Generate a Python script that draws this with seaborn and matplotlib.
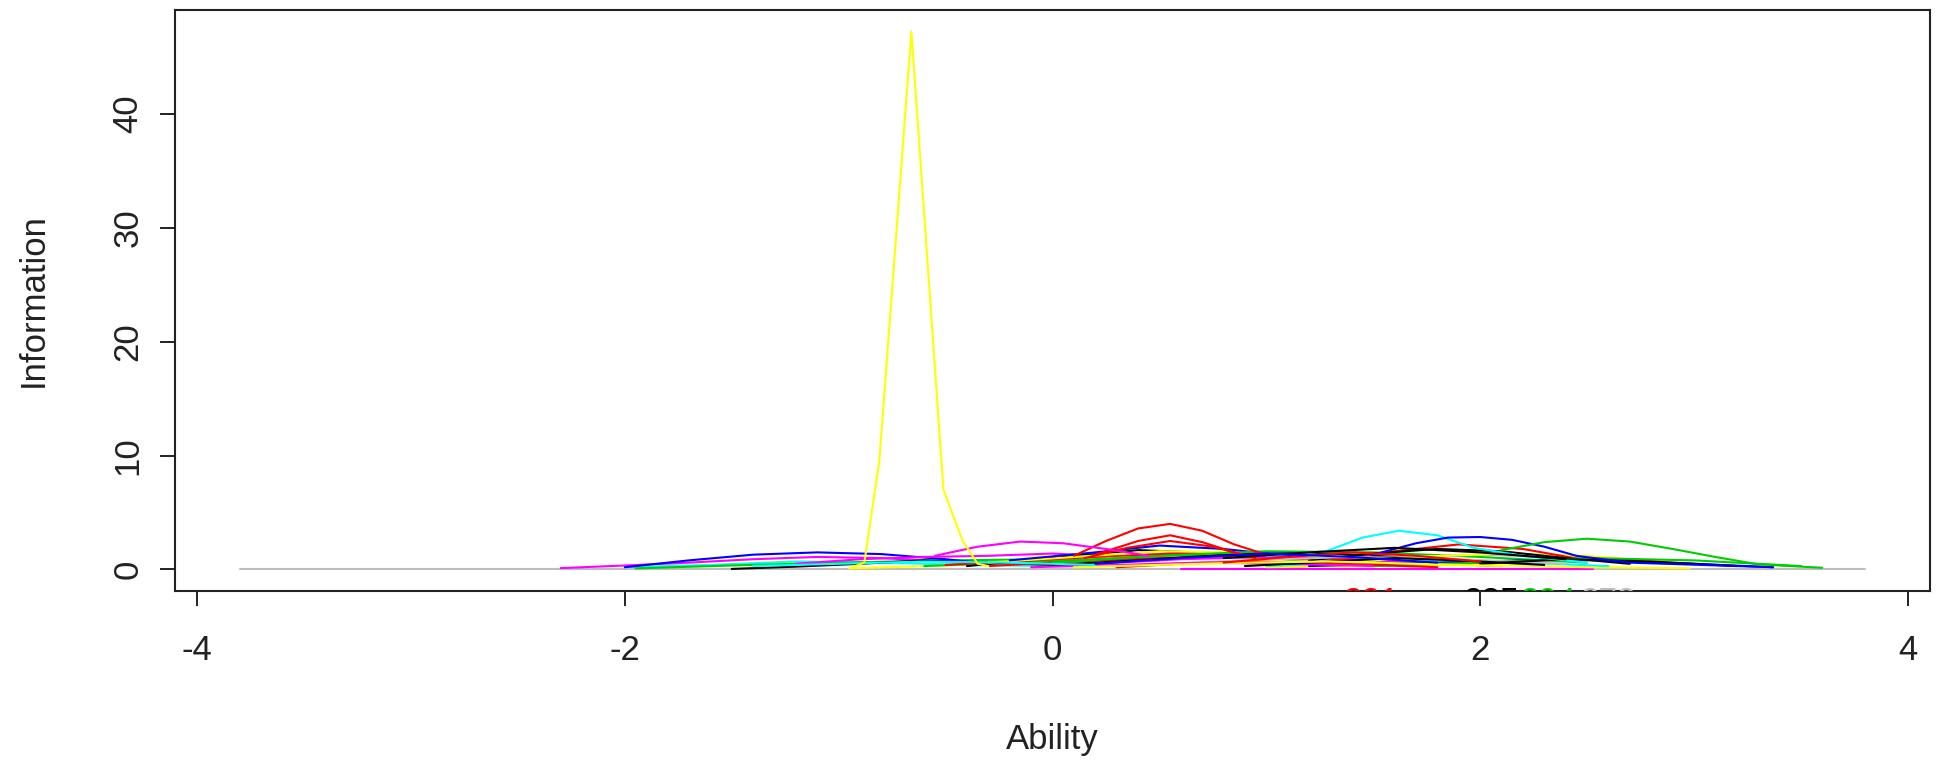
import pandas as pd
import matplotlib.pyplot as plt
import seaborn as sns

# R default palette
R_COLS = {'black': '#000000', 'red': '#FF0000', 'green': '#00CD00', 'blue': '#0000FF',
          'cyan': '#00FFFF', 'magenta': '#FF00FF', 'yellow': '#FFFF00', 'gray': '#BEBEBE'}

# item information curves: colour, theta points, information points
item_colour = [
    'gray', 'magenta', 'cyan', 'green', 'black', 'blue', 'magenta', 'yellow',
    'green', 'black', 'red', 'yellow', 'blue', 'magenta', 'red', 'black',
    'green', 'gray', 'yellow', 'cyan', 'magenta', 'yellow', 'red', 'black',
    'blue', 'green', 'gray', 'black', 'red', 'magenta', 'black', 'yellow',
    'cyan', 'red', 'red', 'red',
    'magenta', 'blue', 'cyan', 'black', 'red', 'blue', 'green', 'yellow',
]
item_theta = [
    [-3.8, 3.8],
    [-2.3, -2.0, -1.7, -1.4, -1.1, -0.8, -0.5],
    [-2.0, -1.6, -1.2, -0.8, -0.4, 0.0],
    [-1.95, -1.5, -1.0, -0.5, 0.0, 0.5],
    [-1.5, -1.2, -0.9, -0.6, -0.3, 0.0, 0.3],
    [-2.0, -1.7, -1.4, -1.1, -0.8, -0.5, -0.3],
    [-1.2, -0.9, -0.6, -0.3, 0.0, 0.3],
    [-0.95, -0.5, 0.0, 0.5, 1.0, 1.5],
    [-0.6, -0.2, 0.2, 0.6, 1.0, 1.4],
    [-0.4, 0.0, 0.4, 0.8, 1.2, 1.6],
    [-0.5, -0.1, 0.3, 0.7, 1.1, 1.5],
    [-0.3, 0.1, 0.5, 0.9, 1.3, 1.7],
    [-0.2, 0.2, 0.5, 0.8, 1.1, 1.4],
    [0.6, 1.0, 1.5, 2.0, 2.53],
    [-0.3, 0.1, 0.5, 0.9, 1.3, 1.7, 2.1],
    [0.0, 0.4, 0.8, 1.2, 1.6, 2.0],
    [0.0, 0.5, 1.0, 1.5, 2.0, 2.5],
    [1.0, 1.5, 2.0, 2.5, 3.0],
    [1.0, 1.5, 2.0, 2.5, 2.98],
    [1.0, 1.4, 1.8, 2.2, 2.6],
    [0.2, 0.6, 1.0, 1.4, 1.8],
    [1.3, 1.7, 2.1, 2.5, 2.9],
    [1.3, 1.6, 1.9, 2.2, 2.5],
    [1.2, 1.5, 1.8, 2.1, 2.4, 2.7],
    [1.2, 1.8, 2.4, 3.0, 3.37],
    [1.5, 2.0, 2.5, 3.0, 3.5],
    [0.4, 0.9, 1.4, 1.9, 2.4],
    [2.0, 2.4, 2.8, 3.2],
    [0.3, 0.6, 0.9, 1.2, 1.5, 1.8],
    [-0.1, 0.3, 0.7, 1.1, 1.5],
    [0.9, 1.3, 1.6, 1.9, 2.3],
    [0.1, 0.5, 0.9, 1.3, 1.7, 2.1],
    [1.0, 1.28, 1.45, 1.62, 1.8, 1.97, 2.2, 2.5],
    [0.15, 0.35, 0.55, 0.75, 0.95],
    [0.2, 0.4, 0.55, 0.7, 0.9],
    [0.10, 0.25, 0.40, 0.55, 0.70, 0.85, 1.00],
    [-0.55, -0.35, -0.15, 0.05, 0.25, 0.45],
    [1.5, 1.7, 1.85, 2.0, 2.15, 2.3, 2.45, 2.7, 3.37],
    [-1.4, -1.0, -0.6, -0.2, 0.2],
    [0.8, 1.2, 1.6, 2.0, 2.4],
    [0.8, 1.1, 1.4, 1.7, 2.0],
    [0.2, 0.6, 1.0, 1.4, 1.8],
    [2.1, 2.3, 2.5, 2.7, 2.9, 3.1, 3.3, 3.6],
    [-0.95, -0.88, -0.81, -0.66, -0.51, -0.42, -0.35, -0.30],
]
item_info = [
    [0.0, 0.0],
    [0.12, 0.35, 0.6, 0.9, 1.1, 1.0, 0.7],
    [0.2, 0.4, 0.7, 0.6, 0.4, 0.3],
    [0.1, 0.35, 0.6, 0.8, 0.9, 0.8],
    [0.05, 0.25, 0.5, 0.8, 0.6, 0.4, 0.3],
    [0.2, 0.8, 1.3, 1.5, 1.35, 0.9, 0.5],
    [0.5, 0.9, 1.1, 1.2, 1.4, 1.1],
    [0.1, 0.35, 0.8, 1.2, 1.0, 0.6],
    [0.3, 0.6, 0.9, 1.3, 1.0, 0.5],
    [0.3, 1.0, 1.7, 1.4, 0.9, 0.5],
    [0.4, 0.8, 1.2, 1.5, 1.0, 0.5],
    [0.6, 1.1, 1.6, 1.5, 1.0, 0.6],
    [0.8, 1.5, 2.1, 1.8, 1.2, 0.6],
    [0.08, 0.08, 0.08, 0.08, 0.08],
    [0.3, 0.7, 1.0, 1.2, 0.9, 0.6, 0.3],
    [0.4, 0.8, 1.3, 1.5, 1.1, 0.6],
    [0.6, 1.2, 1.6, 1.5, 1.1, 0.6],
    [0.6, 1.0, 1.3, 1.0, 0.5],
    [0.2, 0.3, 0.4, 0.2, 0.1],
    [0.3, 0.6, 0.8, 0.6, 0.3],
    [0.5, 0.9, 1.1, 0.9, 0.5],
    [0.5, 1.1, 1.4, 1.2, 0.6],
    [0.8, 1.6, 2.2, 1.8, 0.8],
    [0.8, 1.4, 1.8, 1.6, 1.0, 0.5],
    [0.3, 0.6, 0.9, 0.5, 0.2],
    [0.3, 0.6, 1.0, 0.8, 0.3],
    [0.4, 0.8, 1.1, 0.9, 0.5],
    [0.5, 0.9, 0.7, 0.3],
    [0.2, 0.5, 0.7, 0.6, 0.4, 0.2],
    [0.2, 0.4, 0.6, 0.5, 0.3],
    [0.3, 0.7, 1.0, 0.8, 0.4],
    [0.2, 0.4, 0.6, 0.7, 0.5, 0.3],
    [1.2, 1.6, 2.8, 3.4, 3.0, 1.9, 1.2, 0.6],
    [1.0, 1.9, 2.5, 2.0, 1.0],
    [1.3, 2.5, 3.0, 2.4, 1.2],
    [1.2, 2.5, 3.6, 4.0, 3.4, 2.2, 1.3],
    [1.2, 2.0, 2.45, 2.3, 1.8, 1.2],
    [1.3, 2.3, 2.8, 2.85, 2.6, 2.0, 1.2, 0.6, 0.2],
    [0.3, 0.5, 0.7, 0.6, 0.4],
    [1.0, 1.5, 1.9, 1.5, 0.9],
    [0.6, 1.1, 1.5, 1.2, 0.7],
    [0.5, 1.0, 1.4, 1.1, 0.6],
    [1.7, 2.4, 2.7, 2.45, 1.8, 1.1, 0.45, 0.15],
    [0.1, 0.6, 9.5, 47.2, 7.0, 2.5, 0.5, 0.3],
]

# item labels that end up mostly clipped below the plotting region
label_text = ['321', '235', '294', '278']
label_theta = [1.49, 2.05, 2.32, 2.6]
label_colour = ['red', 'black', 'green', 'gray']

rows = []
for i, (xs, ys) in enumerate(zip(item_theta, item_info)):
    for order, (x, y) in enumerate(zip(xs, ys)):
        rows.append({'item': i, 'order': order, 'theta': x, 'info': y})
df = pd.DataFrame(rows)
palette = {i: R_COLS[c] for i, c in enumerate(item_colour)}

sns.set_theme(style="white")
plt.rcParams['font.family'] = ['Liberation Sans', 'DejaVu Sans']

fig = plt.figure(figsize=(19.36, 7.63), dpi=100)
ax = fig.add_axes([175 / 1936, 1 - 591 / 763, 1755 / 1936, 581 / 763])

sns.lineplot(data=df, x='theta', y='info', hue='item', units='item', estimator=None,
             sort=False, palette=palette, legend=False, linewidth=1.5, ax=ax)

for t, x, c in zip(label_text, label_theta, label_colour):
    ax.text(x, -1.5, t, color=R_COLS[c], fontsize=24, ha='center', va='top', clip_on=True)

ax.set_xlim(-4.104, 4.104)
ax.set_ylim(-1.888, 49.09)
ax.set_xticks([-4, -2, 0, 2, 4])
ax.set_yticks([0, 10, 20, 30, 40])
ax.set_xticklabels(['-4', '-2', '0', '2', '4'])
ax.tick_params(axis='both', direction='out', length=11, width=1.4, color='#222222',
               labelsize=25, labelcolor='#222222', bottom=True, left=True)
ax.tick_params(axis='x', pad=20)
ax.tick_params(axis='y', pad=11)
for lab in ax.get_yticklabels():
    lab.set_rotation(90)
    lab.set_va('center')

for s in ax.spines.values():
    s.set_color('#222222')
    s.set_linewidth(1.5)

ax.set_xlabel('Ability', fontsize=25, color='#222222')
ax.set_ylabel('Information', fontsize=25, color='#222222')
ax.xaxis.set_label_coords(0.5, -0.255)
ax.xaxis.label.set_va('center')
ax.yaxis.set_label_coords(-0.081, 0.5)
ax.yaxis.label.set_va('center')

fig.savefig('out.png', dpi=100)
